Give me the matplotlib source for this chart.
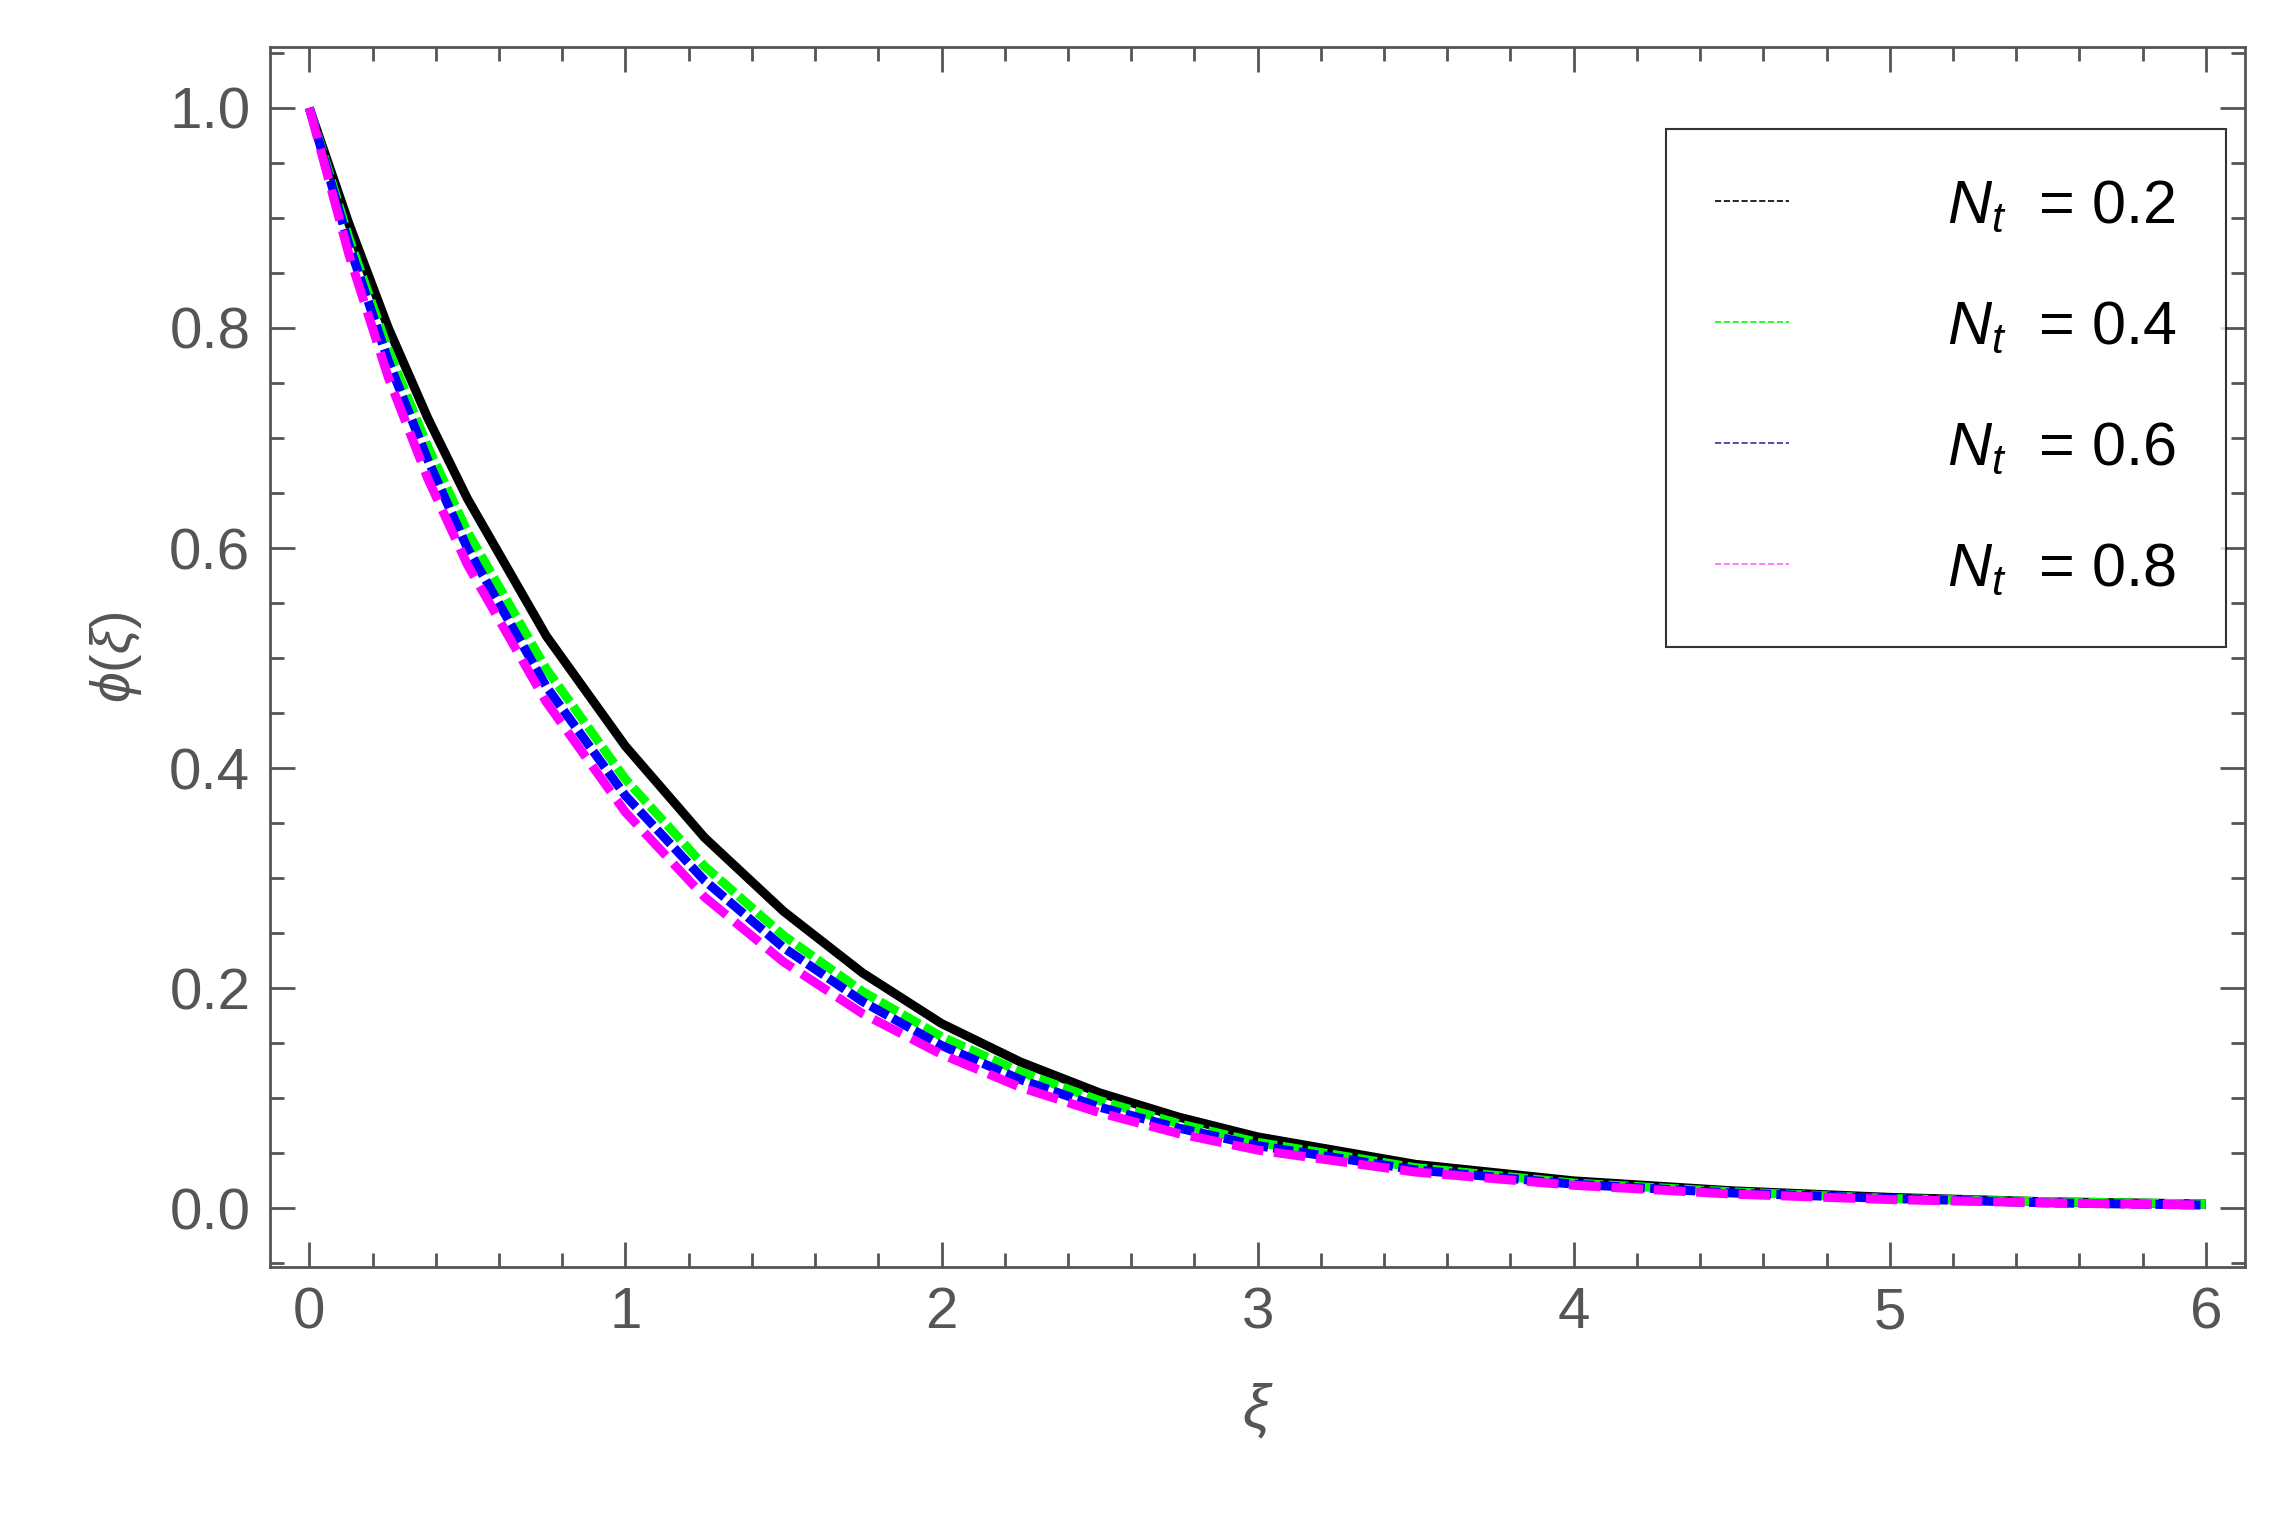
import matplotlib
matplotlib.use("Agg")
import matplotlib.pyplot as plt
from matplotlib.lines import Line2D

plt.rcParams['font.family'] = ['Liberation Sans', 'DejaVu Sans']
plt.rcParams['mathtext.fontset'] = 'custom'
plt.rcParams['mathtext.it'] = 'Liberation Sans:italic'
plt.rcParams['mathtext.rm'] = 'Liberation Sans'

x = [0, 0.125, 0.25, 0.375, 0.5, 0.75, 1.0, 1.25, 1.5, 1.75, 2.0, 2.25, 2.5, 2.75, 3.0, 3.5, 4.0, 4.5, 5.0, 5.5, 6.0]
phi_02 = [1.0, 0.895, 0.80, 0.718, 0.645, 0.52, 0.42, 0.337, 0.270, 0.214, 0.168, 0.133, 0.105, 0.083, 0.065, 0.040, 0.025, 0.016, 0.010, 0.006, 0.004]
phi_04 = [1.0, 0.882, 0.78, 0.692, 0.615, 0.49, 0.39, 0.311, 0.248, 0.197, 0.156, 0.124, 0.098, 0.077, 0.060, 0.037, 0.023, 0.015, 0.009, 0.006, 0.004]
phi_06 = [1.0, 0.876, 0.77, 0.680, 0.60, 0.474, 0.375, 0.298, 0.237, 0.188, 0.148, 0.117, 0.092, 0.073, 0.057, 0.035, 0.022, 0.014, 0.009, 0.005, 0.003]
phi_08 = [1.0, 0.867, 0.755, 0.663, 0.585, 0.46, 0.36, 0.283, 0.224, 0.177, 0.140, 0.110, 0.087, 0.068, 0.053, 0.033, 0.021, 0.013, 0.008, 0.005, 0.003]
labels = [r"$N_t$  = 0.2", r"$N_t$  = 0.4", r"$N_t$  = 0.6", r"$N_t$  = 0.8"]

gray = "#555555"
fig = plt.figure(figsize=(22.75, 15.28), dpi=100)
ax = fig.add_axes([0.1186, 0.171, 0.8684, 0.798])
ax.plot(x, phi_02, color="black", lw=6.5, solid_capstyle="butt")
ax.plot(x, phi_04, color="#00ff00", lw=6.5, dashes=(2.2, 0.6))
ax.plot(x, phi_06, color="#0000ff", lw=6.5, dashes=(2.2, 0.6))
ax.plot(x, phi_08, color="#ff00ff", lw=6.5, dashes=(3.5, 1.2))
ax.set_xlim(-0.125, 6.125)
ax.set_ylim(-0.053, 1.055)
ax.set_xticks(range(7))
ax.set_yticks([0, 0.2, 0.4, 0.6, 0.8, 1.0])
ax.set_yticklabels(["0.0", "0.2", "0.4", "0.6", "0.8", "1.0"])
ax.set_xticks([i * 0.2 for i in range(31)], minor=True)
ax.set_yticks([i * 0.05 - 0.05 for i in range(23)], minor=True)
ax.tick_params(which="both", direction="in", top=True, right=True, colors=gray,
               labelsize=42, labelcolor=gray, width=2)
ax.tick_params(which="major", length=18, pad=14)
ax.tick_params(which="minor", length=10)
for s in ax.spines.values():
    s.set_color(gray); s.set_linewidth(2)
ax.set_xlabel(r"$\xi$", fontsize=44, color=gray, labelpad=30)
ax.set_ylabel(r"$\phi(\xi)$", fontsize=40, color=gray, labelpad=18)
handles = [Line2D([], [], color="black", lw=1.2, ls="--"),
           Line2D([], [], color="#00ff00", lw=1.2, ls="--"),
           Line2D([], [], color="#333399", lw=1.2, ls="--"),
           Line2D([], [], color="#ff66ff", lw=1.2, ls="--")]
leg = ax.legend(handles, labels, loc="upper right", bbox_to_anchor=(0.99, 0.933),
                borderaxespad=0, fontsize=44, frameon=True, fancybox=False, edgecolor="black",
                labelspacing=1.05, handlelength=1.2, handletextpad=2.6, borderpad=0.8)
leg.get_frame().set_linewidth(1.5)
fig.savefig("out.png", dpi=100)
